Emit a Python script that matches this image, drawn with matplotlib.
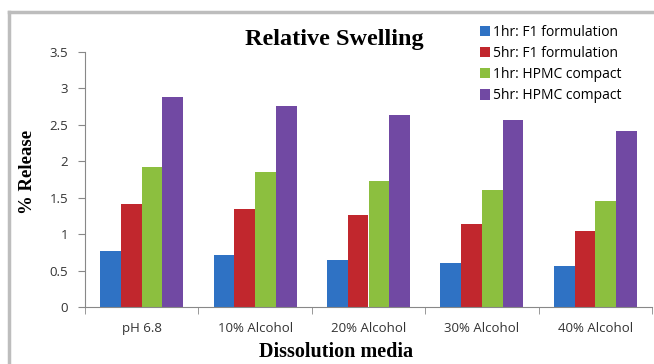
import matplotlib.pyplot as plt
import numpy as np
from matplotlib.lines import Line2D

media = ["pH 6.8", "10% Alcohol", "20% Alcohol", "30% Alcohol", "40% Alcohol"]
series = ["1hr: F1 formulation", "5hr: F1 formulation",
          "1hr: HPMC compact", "5hr: HPMC compact"]
f1_1hr = [0.77, 0.72, 0.65, 0.60, 0.56]
f1_5hr = [1.41, 1.35, 1.26, 1.14, 1.05]
hpmc_1hr = [1.92, 1.85, 1.73, 1.60, 1.45]
hpmc_5hr = [2.88, 2.76, 2.64, 2.56, 2.41]
colors = ["#2f72c4", "#c1272d", "#8cbf3f", "#7149a3"]

fig = plt.figure(figsize=(6.54, 3.64), dpi=100)
# grey frame along the top and left of the chart
top, left = 1 - 12/364, 9/654
fig.lines.append(Line2D([left, 1], [top, top], transform=fig.transFigure,
                        color="#bdbdbd", linewidth=2.5))
fig.lines.append(Line2D([left, left], [0, top], transform=fig.transFigure,
                        color="#bdbdbd", linewidth=2.5))

ax = fig.add_axes([85/654, 1 - 307/364, 567/654, 255/364])
x = np.arange(len(media))
w = 0.183
for i, (vals, lab) in enumerate(zip([f1_1hr, f1_5hr, hpmc_1hr, hpmc_5hr], series)):
    ax.bar(x + (i - 1.5) * w, vals, w, color=colors[i], label=lab)

tick_font = {"family": "Open Sans", "size": 9.5, "color": "#333333"}
ax.set_xlim(-0.5, len(media) - 0.5)
ax.set_ylim(0, 3.5)
ax.set_yticks(np.arange(0, 3.51, 0.5))
ax.set_yticklabels(["0", "0.5", "1", "1.5", "2", "2.5", "3", "3.5"], **tick_font)
ax.set_xticks(x)
ax.set_xticklabels(media, **tick_font)
ax.set_xticks(np.arange(-0.5, len(media)), minor=True)
ax.tick_params(axis="x", which="major", length=0, pad=11)
ax.tick_params(axis="x", which="minor", length=5, color="#888888")
ax.tick_params(axis="y", length=5, color="#888888", pad=7)
for s in ["top", "right"]:
    ax.spines[s].set_visible(False)
for s in ["left", "bottom"]:
    ax.spines[s].set_color("#888888")

label_font = {"family": "Liberation Serif", "fontweight": "bold", "fontsize": 14.5}
ax.set_ylabel("% Release", family="Liberation Serif", fontweight="bold",
              fontsize=13.5)
ax.yaxis.set_label_coords(-0.086, 0.53)
fig.text(336/654, 1 - 352/364, "Dissolution media", ha="center", va="center",
         **label_font)
fig.text(334/654, 1 - 39/364, "Relative Swelling", family="Liberation Serif",
         fontweight="bold", fontsize=17.5, ha="center", va="center")

ax.legend(loc="upper left", bbox_to_anchor=(474/654, 1 - 19/364),
          bbox_transform=fig.transFigure, frameon=False,
          prop={"family": "Open Sans", "size": 10},
          handlelength=0.75, handleheight=0.75, handletextpad=0.2,
          labelspacing=0.45, borderaxespad=0)

fig.savefig("out.png", dpi=100)
